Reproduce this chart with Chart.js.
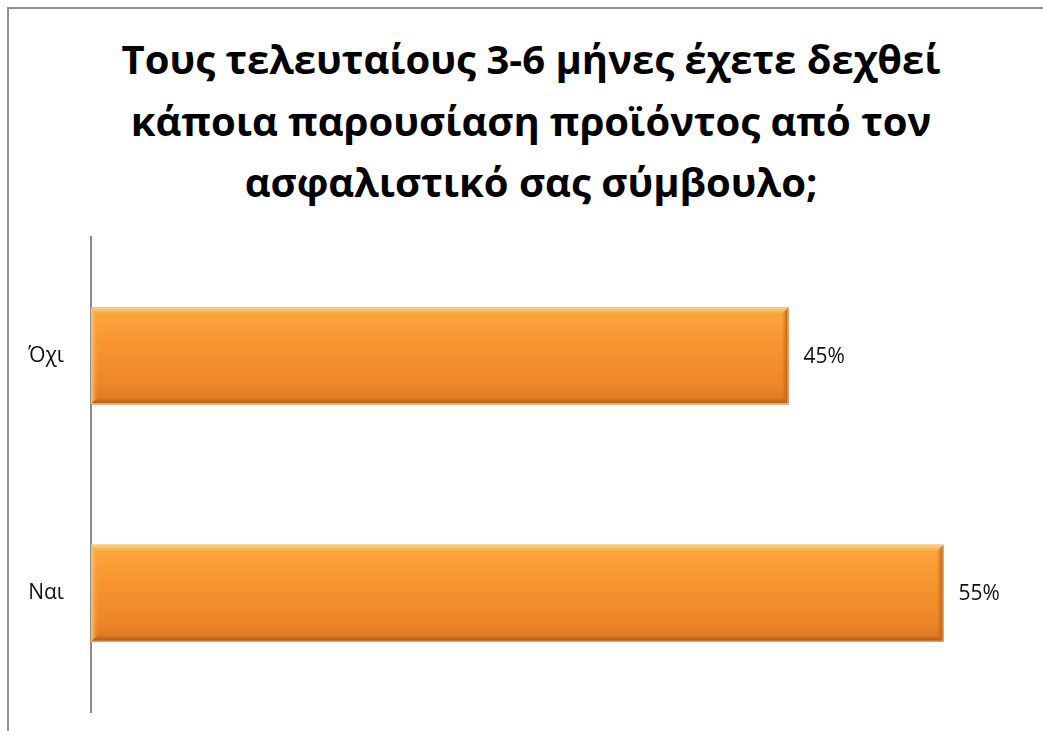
<!DOCTYPE html>
<html lang="el">
<head>
<meta charset="utf-8">
<script src="https://cdn.jsdelivr.net/npm/chart.js@4.4.1/dist/chart.umd.min.js"></script>
<style>
  html, body { margin: 0; padding: 0; background: #fff; }
  body { width: 1043px; height: 731px; position: relative; overflow: hidden; }
  .frame { position: absolute; left: 7px; top: 7px; width: 1100px; height: 800px;
           border: 2px solid #8e8e8e; box-sizing: border-box; }
  #titulo { position: absolute; left: 20px; width: 1022px; top: 28px; margin: 0;
            text-align: center; font: bold 40px/61.5px 'Open Sans', 'Noto Sans', sans-serif;
            color: #000; }
  #wrap { position: absolute; left: 0; top: 0; width: 1043px; height: 731px; }
  #chart { display: block; width: 1043px; height: 731px; }
</style>
</head>
<body>
<div class="frame"></div>
<h1 id="titulo"></h1>
<div id="wrap"><canvas id="chart" width="1043" height="731"></canvas></div>
<script>
// ερώτηση / απαντήσεις
const titulo = [
  "Τους τελευταίους 3-6 μήνες έχετε δεχθεί",
  "κάποια παρουσίαση προϊόντος από τον",
  "ασφαλιστικό σας σύμβουλο;"
];
const respostas = ["Όχι", "Ναι"];
const percentuais = [45, 55];
const eixoMax = 60;

const FONT = "'Open Sans', 'Noto Sans', sans-serif";

document.getElementById("titulo").innerHTML = titulo.join("<br>");

// barra com relevo (gradiente + bordas claras/escuras)
const relevoBarras = {
  id: "relevoBarras",
  afterDatasetsDraw(chart) {
    const { ctx } = chart;
    chart.getDatasetMeta(0).data.forEach(bar => {
      const x0 = Math.min(bar.base, bar.x), x1 = Math.max(bar.base, bar.x);
      const y0 = bar.y - bar.height / 2, y1 = bar.y + bar.height / 2;
      const w = x1 - x0, h = y1 - y0, b = 7;
      ctx.save();
      const g = ctx.createLinearGradient(0, y0, 0, y1);
      g.addColorStop(0, "#fba83e");
      g.addColorStop(0.35, "#f89731");
      g.addColorStop(0.8, "#ec862a");
      g.addColorStop(1, "#dc7822");
      ctx.fillStyle = g;
      ctx.fillRect(x0, y0, w, h);

      // topo claro
      const gt = ctx.createLinearGradient(0, y0, 0, y0 + b);
      gt.addColorStop(0, "#fde27c");
      gt.addColorStop(1, "rgba(251,190,90,0)");
      ctx.fillStyle = gt;
      ctx.beginPath();
      ctx.moveTo(x0, y0); ctx.lineTo(x1, y0); ctx.lineTo(x1 - b, y0 + b); ctx.lineTo(x0 + b, y0 + b);
      ctx.closePath(); ctx.fill();

      // lado esquerdo claro
      const gl = ctx.createLinearGradient(x0, 0, x0 + b, 0);
      gl.addColorStop(0, "rgba(252,200,110,0.9)");
      gl.addColorStop(1, "rgba(250,170,70,0)");
      ctx.fillStyle = gl;
      ctx.beginPath();
      ctx.moveTo(x0, y0); ctx.lineTo(x0 + b, y0 + b); ctx.lineTo(x0 + b, y1 - b); ctx.lineTo(x0, y1);
      ctx.closePath(); ctx.fill();

      // lado direito escuro
      const gr = ctx.createLinearGradient(x1 - b, 0, x1, 0);
      gr.addColorStop(0, "rgba(200,110,30,0)");
      gr.addColorStop(1, "rgba(160,85,25,0.95)");
      ctx.fillStyle = gr;
      ctx.beginPath();
      ctx.moveTo(x1, y0); ctx.lineTo(x1, y1); ctx.lineTo(x1 - b, y1 - b); ctx.lineTo(x1 - b, y0 + b);
      ctx.closePath(); ctx.fill();

      // base escura
      const gb = ctx.createLinearGradient(0, y1 - b, 0, y1);
      gb.addColorStop(0, "rgba(190,100,30,0)");
      gb.addColorStop(1, "rgba(150,80,25,0.95)");
      ctx.fillStyle = gb;
      ctx.beginPath();
      ctx.moveTo(x0, y1); ctx.lineTo(x1, y1); ctx.lineTo(x1 - b, y1 - b); ctx.lineTo(x0 + b, y1 - b);
      ctx.closePath(); ctx.fill();

      ctx.strokeStyle = "#e9c39c";
      ctx.lineWidth = 1;
      ctx.strokeRect(x0 + 0.5, y0 + 0.5, w - 1, h - 1);
      ctx.restore();
    });
  }
};

// rótulos de valor à direita da barra
const rotulosValor = {
  id: "rotulosValor",
  afterDatasetsDraw(chart) {
    const { ctx } = chart;
    const ds = chart.data.datasets[0];
    ctx.save();
    ctx.font = `21px ${FONT}`;
    ctx.fillStyle = "#111";
    ctx.textAlign = "left";
    ctx.textBaseline = "middle";
    chart.getDatasetMeta(0).data.forEach((bar, i) => {
      ctx.fillText(`${ds.data[i]}%`, bar.x + 15, bar.y + 1);
    });
    ctx.restore();
  }
};

new Chart(document.getElementById("chart"), {
  type: "bar",
  data: {
    labels: respostas,
    datasets: [{
      data: percentuais,
      backgroundColor: "#f7962f",
      borderWidth: 0,
      categoryPercentage: 1,
      barPercentage: 0.408
    }]
  },
  options: {
    indexAxis: "y",
    responsive: false,
    animation: false,
    devicePixelRatio: 1,
    layout: { padding: { left: 0, right: 22, top: 237, bottom: 19 } },
    plugins: {
      legend: { display: false },
      tooltip: { enabled: false },
      title: { display: false }
    },
    scales: {
      x: { display: false, min: 0, max: eixoMax },
      y: {
        grid: { display: false, drawTicks: false },
        border: { display: true, color: "#8c8c8c", width: 2 },
        ticks: { color: "#111", padding: 27, font: { family: FONT, size: 21 } },
        afterFit(scale) {
          scale.width = 91;
          // sem folga extra acima/abaixo do eixo
          scale.paddingTop = 0;
          scale.paddingBottom = 0;
        }
      }
    }
  },
  plugins: [relevoBarras, rotulosValor]
});
</script>
</body>
</html>
